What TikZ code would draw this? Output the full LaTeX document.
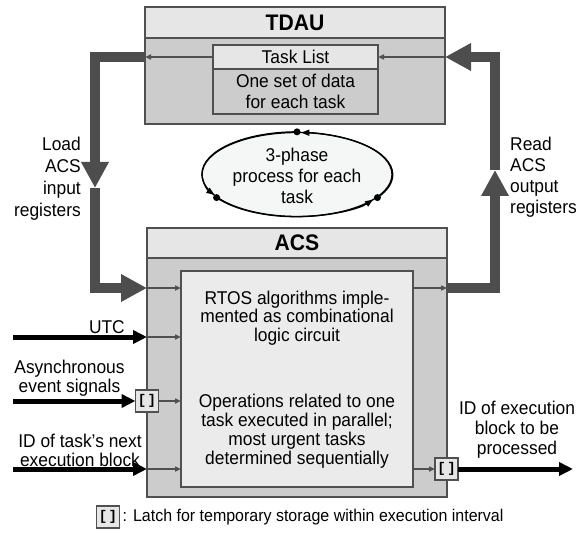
\documentclass[tikz,border=0pt]{standalone}
\usepackage{fontspec}
\setmainfont{Liberation Sans}[FakeStretch=0.94]
\setmonofont{Liberation Mono}
\usepackage{xcolor}
\usetikzlibrary{arrows.meta,positioning,calc,shapes.geometric}

\definecolor{boxline}{HTML}{505050}
\definecolor{bodygray}{HTML}{CCCCCC}
\definecolor{headgray}{HTML}{E6E6E6}
\definecolor{innergray}{HTML}{EBEBEB}
\definecolor{busgray}{HTML}{4D4D4D}
\definecolor{cyclefill}{HTML}{F5F7F7}

\newcommand{\latchsym}{\ttfamily\bfseries[\hspace{1.5pt}]}

\begin{document}
\begin{tikzpicture}[x=1pt,y=-1pt,
            txt/.style={font=\fontsize{18.5}{21}\selectfont, align=center, inner sep=0pt},
            unit/.style={draw=boxline, line width=1.5pt, fill=bodygray, rectangle, inner sep=0pt, outer sep=0pt},
            head/.style={unit, fill=headgray, font=\fontsize{22.5}{24}\selectfont\bfseries},
            frame/.style={unit, font=\fontsize{18.5}{21.5}\selectfont, align=center},
            core/.style={unit, fill=innergray},
            cycle/.style={draw, line width=1.3pt, fill=cyclefill, ellipse, inner sep=0pt,
                 minimum width=190pt, minimum height=84pt},
            dot/.style={fill, circle, inner sep=0pt, minimum size=7pt},
            latch/.style={draw=boxline, line width=1.2pt, fill=headgray, rectangle, inner sep=0pt,
                 outer sep=0pt, minimum width=23pt, minimum height=22pt, font=\fontsize{14}{14}\selectfont},
            bus/.style={draw=busgray, line width=10pt, -{Triangle[length=26pt,width=26pt]}},
            wire/.style={draw=boxline, line width=1.5pt, -{Triangle[length=6pt,width=5pt]}},
            signal/.style={draw=black, line width=5pt, -{Triangle[length=14pt,width=13pt]}},
            cyclearrow/.style={draw=black, line width=1.3pt, -{Triangle[length=8pt,width=6pt]}, shorten >=3.5pt}
            ]

            \useasboundingbox (0,0) rectangle (585,534);

            % Nodes with manual coordinates
            \node[unit, minimum width=300pt, minimum height=117pt] (tdau) at (295,65.5) {};
            \node[head, minimum width=300pt, minimum height=31pt, anchor=north] (tdauhead) at (tdau.north) {TDAU};
            \node[frame, fill=headgray, minimum width=165pt, minimum height=24pt] (tasklist) at (295.5,57) {Task List};
            \node[frame, minimum width=165pt, minimum height=45pt, anchor=north] (taskdata) at (tasklist.south) {One set of data\\for each task};

            \node[cycle] (cyc) at (297,174.5) {};
            \node[txt] (cyctext) at (297,176) {3-phase\\process for each\\task};
            \node[dot] (phase1) at (cyc.90) {};
            \node[dot] (phase2) at (cyc.196) {};
            \node[dot] (phase3) at (cyc.344) {};

            \node[unit, minimum width=300pt, minimum height=269pt] (acs) at (297,362.5) {};
            \node[head, minimum width=300pt, minimum height=30pt, anchor=north] (acshead) at (acs.north) {ACS};
            \node[core, minimum width=232pt, minimum height=216pt] (rtos) at (297,379) {};
            \node[txt, font=\fontsize{18.5}{18.5}\selectfont] (rtostext) at (297,318) {RTOS algorithms imple-\\mented as combinational\\logic circuit};
            \node[txt, font=\fontsize{18.5}{19}\selectfont] (opstext) at (297,431) {Operations related to one\\task executed in parallel;\\most urgent tasks\\determined sequentially};

            \node[latch] (latchin) at (147,401) {\latchsym};
            \node[latch] (latchout) at (446.5,469) {\latchsym};

            % Labels
            \node[txt, font=\fontsize{18.5}{22}\selectfont, align=right, anchor=east] (loadlbl) at (81,179) {Load\\ACS\\input\\registers};
            \node[txt, font=\fontsize{18.5}{21}\selectfont, align=left, anchor=west] (readlbl) at (510,177) {Read\\ACS\\output\\registers};
            \node[txt, anchor=base east] (utclbl) at (125,333) {UTC};
            \node[txt, font=\fontsize{18.5}{19}\selectfont] (asynclbl) at (69.5,378) {Asynchronous\\event signals};
            \node[txt, font=\fontsize{18.5}{19}\selectfont] (idlbl) at (80,450) {ID of task’s next\\execution block};
            \node[txt, font=\fontsize{18.5}{20}\selectfont] (outlbl) at (517,430) {ID of execution\\block to be\\processed};

            \node[latch] (legendlatch) at (108,517) {\latchsym};
            \node[txt, font=\fontsize{17}{18}\selectfont, anchor=west] (legend) at ([xshift=3pt]legendlatch.east) {: Latch for temporary storage within execution interval};

            % Bends and free ends
            \coordinate (ltop) at (95,57);
            \coordinate (lmid) at (95,188);
            \coordinate (lbot) at (95,288);
            \coordinate (rtop) at (495,57);
            \coordinate (rmid) at (495,170);
            \coordinate (rbot) at (495,288);
            \coordinate (utcsrc) at (13,337);
            \coordinate (asyncsrc) at (13,401);
            \coordinate (idsrc) at (13,469);
            \coordinate (outdst) at (573,469);

            % Arrows
            \draw[bus] (tdau.west |- tasklist) -- (ltop) -- (lmid);
            \draw[bus] (lmid) -- (lbot) -- (lbot -| acs.west);
            \draw[bus] (acs.east |- rbot) -- (rbot) -- (rmid);
            \draw[bus] (rmid) -- (rtop) -- (tdau.east |- tasklist);

            \draw[wire] (tasklist.west) -- (tdau.west |- tasklist);
            \draw[wire] (tdau.east |- tasklist) -- (tasklist.east);
            \draw[wire] (lbot -| acs.west) -- (lbot -| rtos.west);
            \draw[wire] (utcsrc -| acs.west) -- (utcsrc -| rtos.west);
            \draw[wire] (latchin.east) -- (latchin -| rtos.west);
            \draw[wire] (idsrc -| acs.west) -- (idsrc -| rtos.west);
            \draw[wire] (rbot -| rtos.east) -- (rbot -| acs.east);
            \draw[wire] (latchout -| rtos.east) -- (latchout.west);

            \draw[signal] (utcsrc) -- (utcsrc -| acs.west);
            \draw[signal] (asyncsrc) -- (latchin.west);
            \draw[signal] (idsrc) -- (idsrc -| acs.west);
            \draw[signal] (latchout.east) -- (outdst);

            \draw[cyclearrow] (phase1.center) arc[start angle=270, end angle=147, x radius=95, y radius=42];
            \draw[cyclearrow] (phase2.center) arc[start angle=147, end angle=33, x radius=95, y radius=42];
            \draw[cyclearrow] (phase3.center) arc[start angle=33, end angle=-90, x radius=95, y radius=42];
        \end{tikzpicture}
\end{document}
